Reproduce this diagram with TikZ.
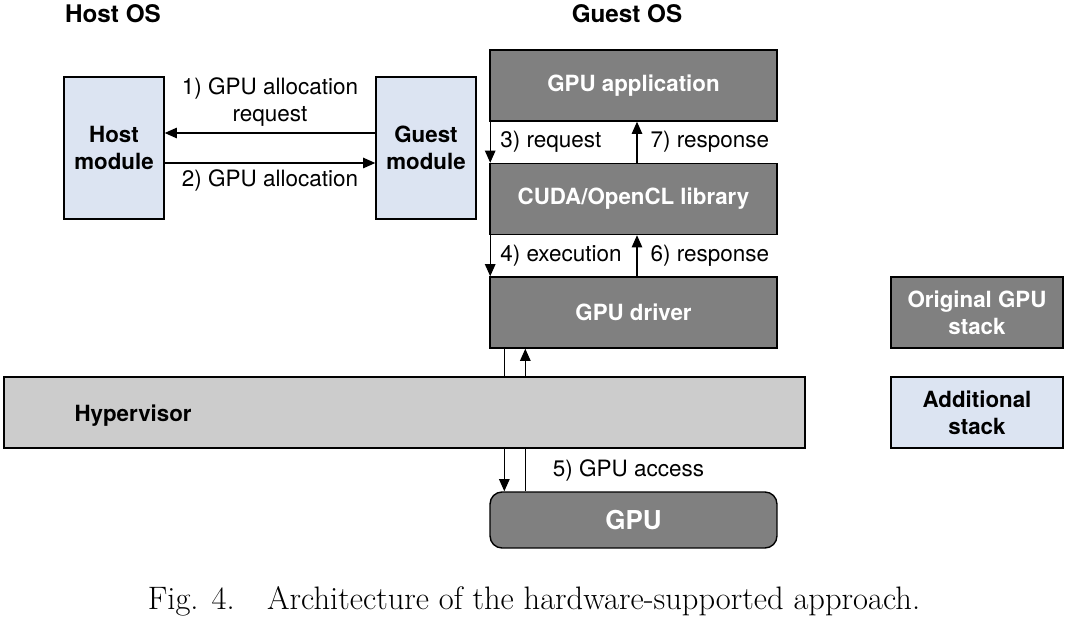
\documentclass[tikz,border=0pt]{standalone}
\usepackage{fontspec}
\setsansfont{TeX Gyre Heros}
\usetikzlibrary{arrows.meta}
\definecolor{stackgray}{RGB}{128,128,128}
\definecolor{addblue}{RGB}{220,228,242}
\definecolor{hypgray}{RGB}{204,204,204}
\tikzset{
  every node/.style={font=\sffamily\fontsize{12.8}{15.5}\selectfont},
  gpustack/.style={rectangle, draw, line width=0.8pt, fill=stackgray, text=white, font=\sffamily\bfseries\fontsize{12.7}{15.5}\selectfont, align=center},
  addstack/.style={rectangle, draw, line width=0.8pt, fill=addblue, font=\sffamily\bfseries\fontsize{12.7}{15.5}\selectfont, align=center},
  ostitle/.style={font=\sffamily\bfseries\fontsize{13.8}{16}\selectfont},
  flow/.style={line width=0.8pt, -{Triangle[length=7pt,width=6pt]}},
  plain/.style={line width=0.8pt}
}
\newcommand{\stackbox}[5] {\node at (#1) (#2) [#3, minimum width=#4, minimum height=1.42cm] {#5};}

\begin{document}
\begin{tikzpicture}[x=0.02cm, y=-0.02cm]
\useasboundingbox (0,0) rectangle (1069,618);
\node at (113,14) (hostos) [ostitle] {Host OS};
\node at (627,14) (guestos) [ostitle] {Guest OS};

\node at (114,148) (hostmod) [addstack, minimum width=2cm, minimum height=2.84cm] {Host\\module};
\node at (426,148) (guestmod) [addstack, minimum width=2cm, minimum height=2.84cm] {Guest\\module};

\stackbox {633.5,85.5} {app} {gpustack} {5.74cm} {GPU application};
\stackbox {633.5,199} {lib} {gpustack} {5.74cm} {CUDA/OpenCL library};
\stackbox {633.5,312.5} {driver} {gpustack} {5.74cm} {GPU driver};
\node at (404.5,412.5) (hyp) [rectangle, draw, line width=0.8pt, fill=hypgray, minimum width=16.02cm, minimum height=1.42cm] {};
\node [anchor=west, font=\sffamily\bfseries\fontsize{12.7}{15.5}\selectfont] (hyptext) at ([xshift=1.3cm, yshift=-2pt]hyp.west) {Hypervisor};
\node at (633.5,520) (gpu) [gpustack, rounded corners=0.24cm, minimum width=5.74cm, minimum height=1.12cm, font=\sffamily\bfseries\fontsize{14.8}{17}\selectfont] {GPU};

\stackbox {977,312.5} {orig} {gpustack} {3.44cm} {Original GPU\\stack};
\stackbox {977,412.5} {addl} {addstack} {3.44cm} {Additional\\stack};

% host <-> guest
\draw [flow] ([yshift=0.3cm]guestmod.west) -- ([yshift=0.3cm]hostmod.east) node [midway, above, align=center] {1) GPU allocation\\request};
\draw [flow] ([yshift=-0.3cm]hostmod.east) -- ([yshift=-0.3cm]guestmod.west) node [midway, below] {2) GPU allocation};

% guest stack
\draw [flow] ([xshift=0.5pt]app.south west) -- ([xshift=0.5pt]lib.north west) node [midway, right, xshift=2pt] {3) request};
\draw [flow] ([xshift=0.07cm]lib.north) -- ([xshift=0.07cm]app.south) node [midway, right, xshift=4pt] {7) response};
\draw [flow] ([xshift=0.5pt]lib.south west) -- ([xshift=0.5pt]driver.north west) node [midway, right, xshift=2pt] {4) execution};
\draw [flow] ([xshift=0.07cm]driver.north) -- ([xshift=0.07cm]lib.south) node [midway, right, xshift=4pt] {6) response};

% through the hypervisor
\draw [plain] ([xshift=0.3cm]driver.south west) -- ([xshift=0.3cm]driver.south west |- hyp.north);
\draw [flow] ([xshift=0.72cm]driver.south west |- hyp.north) -- ([xshift=0.72cm]driver.south west);
\draw [flow] ([xshift=0.3cm]gpu.north west |- hyp.south) -- ([xshift=0.3cm]gpu.north west);
\draw [plain] ([xshift=0.72cm]gpu.north west) -- ([xshift=0.72cm]gpu.north west |- hyp.south) node [midway, right, xshift=12pt] {5) GPU access};

\node at (534,601) (caption) [font=\rmfamily\fontsize{18.5}{21}\selectfont] {Fig. 4.\quad Architecture of the hardware-supported approach.};
\end{tikzpicture}
\end{document}
